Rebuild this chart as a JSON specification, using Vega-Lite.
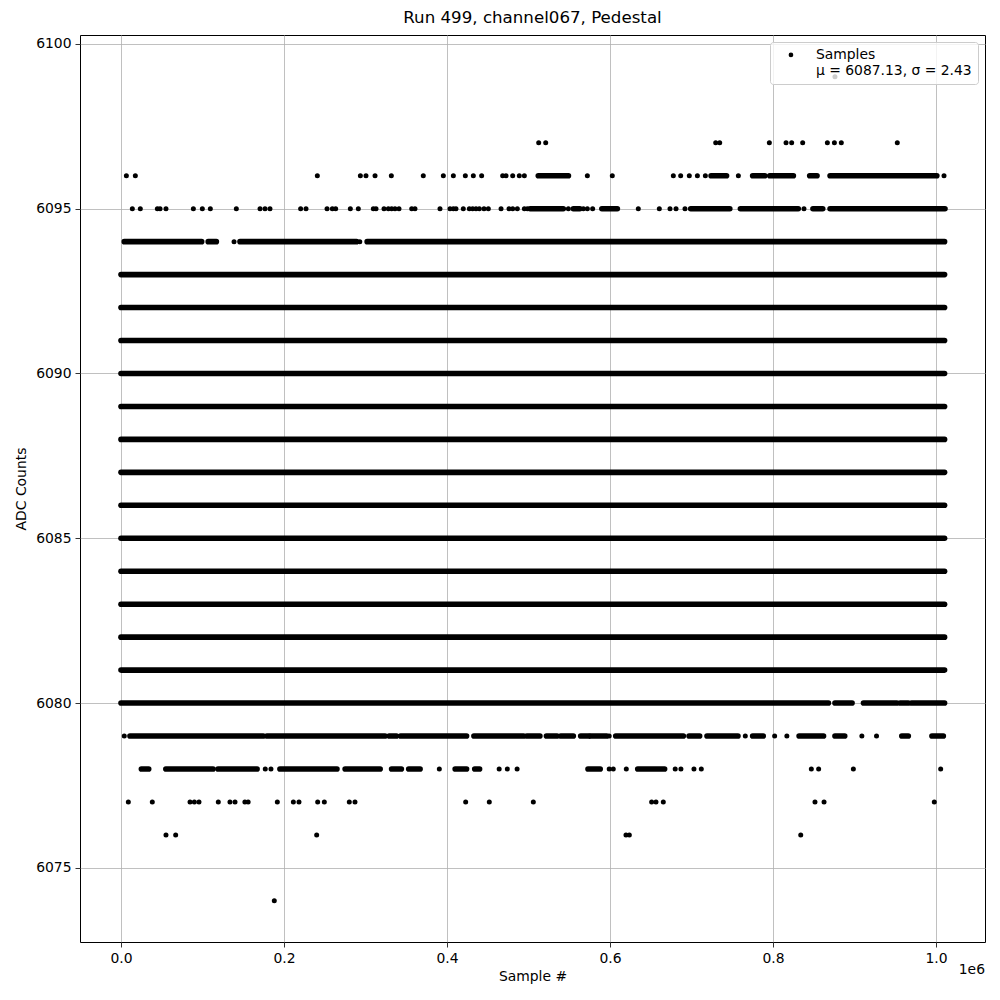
{
  "$schema": "https://vega.github.io/schema/vega-lite/v6.json",
  "width": 905,
  "height": 907,
  "autosize": "none",
  "padding": {"left": 80, "top": 35, "right": 15, "bottom": 58},
  "background": "white",
  "title": {"text": "Run 499, channel067, Pedestal", "font": "DejaVu Sans", "fontSize": 16.67, "fontWeight": "normal", "color": "black", "anchor": "middle", "offset": 8},
  "config": {
    "view": {"stroke": "black", "strokeWidth": 1},
    "axis": {"domain": false, "grid": true, "gridColor": "#b0b0b0", "gridWidth": 0.8, "tickColor": "black", "tickSize": 5, "tickWidth": 0.8, "labelFont": "DejaVu Sans", "labelFontSize": 13.9, "labelColor": "black", "labelPadding": 4, "titleFont": "DejaVu Sans", "titleFontSize": 13.9, "titleFontWeight": "normal", "titleColor": "black"},
    "legend": {"orient": "top-right", "offset": 7, "padding": 6, "fillColor": "rgba(255,255,255,0.8)", "strokeColor": "#cccccc", "cornerRadius": 3, "labelFont": "DejaVu Sans", "labelFontSize": 13.9, "labelColor": "black", "labelLimit": 400, "symbolType": "circle", "symbolSize": 22, "symbolFillColor": "black", "symbolStrokeWidth": 0, "symbolOffset": 8, "labelOffset": 18}
  },
  "datasets": {
    "seg": [
      {"y": 6081, "x": 0, "x2": 1.0105}, {"y": 6082, "x": 0, "x2": 1.0105}, {"y": 6083, "x": 0, "x2": 1.0105},
      {"y": 6084, "x": 0, "x2": 1.0105}, {"y": 6085, "x": 0, "x2": 1.0105}, {"y": 6086, "x": 0, "x2": 1.0105},
      {"y": 6087, "x": 0, "x2": 1.0105}, {"y": 6088, "x": 0, "x2": 1.0105}, {"y": 6089, "x": 0, "x2": 1.0105},
      {"y": 6090, "x": 0, "x2": 1.0105}, {"y": 6091, "x": 0, "x2": 1.0105}, {"y": 6092, "x": 0, "x2": 1.0105},
      {"y": 6093, "x": 0, "x2": 1.0105},
      {"y": 6080, "x": 0, "x2": 0.868}, {"y": 6080, "x": 0.876, "x2": 0.897}, {"y": 6080, "x": 0.911, "x2": 0.952},
      {"y": 6080, "x": 0.956, "x2": 0.966}, {"y": 6080, "x": 0.97, "x2": 1.0105},
      {"y": 6079, "x": 0.011, "x2": 0.1746}, {"y": 6079, "x": 0.179, "x2": 0.324}, {"y": 6079, "x": 0.329, "x2": 0.338},
      {"y": 6079, "x": 0.343, "x2": 0.424}, {"y": 6079, "x": 0.433, "x2": 0.494}, {"y": 6079, "x": 0.498, "x2": 0.514},
      {"y": 6079, "x": 0.522, "x2": 0.535}, {"y": 6079, "x": 0.5395, "x2": 0.555}, {"y": 6079, "x": 0.564, "x2": 0.574},
      {"y": 6079, "x": 0.576, "x2": 0.596}, {"y": 6079, "x": 0.607, "x2": 0.69}, {"y": 6079, "x": 0.697, "x2": 0.71},
      {"y": 6079, "x": 0.719, "x2": 0.757}, {"y": 6079, "x": 0.775, "x2": 0.788}, {"y": 6079, "x": 0.832, "x2": 0.862},
      {"y": 6079, "x": 0.876, "x2": 0.888}, {"y": 6079, "x": 0.958, "x2": 0.966}, {"y": 6079, "x": 0.995, "x2": 1.009},
      {"y": 6078, "x": 0.025, "x2": 0.034}, {"y": 6078, "x": 0.055, "x2": 0.113}, {"y": 6078, "x": 0.119, "x2": 0.167},
      {"y": 6078, "x": 0.195, "x2": 0.265}, {"y": 6078, "x": 0.275, "x2": 0.318}, {"y": 6078, "x": 0.332, "x2": 0.344},
      {"y": 6078, "x": 0.353, "x2": 0.367}, {"y": 6078, "x": 0.41, "x2": 0.424}, {"y": 6078, "x": 0.434, "x2": 0.44},
      {"y": 6078, "x": 0.573, "x2": 0.588}, {"y": 6078, "x": 0.634, "x2": 0.667},
      {"y": 6094, "x": 0.004, "x2": 0.099}, {"y": 6094, "x": 0.107, "x2": 0.117}, {"y": 6094, "x": 0.146, "x2": 0.289},
      {"y": 6094, "x": 0.302, "x2": 1.0105},
      {"y": 6095, "x": 0.502, "x2": 0.5427}, {"y": 6095, "x": 0.555, "x2": 0.563}, {"y": 6095, "x": 0.59, "x2": 0.609},
      {"y": 6095, "x": 0.699, "x2": 0.747}, {"y": 6095, "x": 0.76, "x2": 0.831}, {"y": 6095, "x": 0.849, "x2": 0.861},
      {"y": 6095, "x": 0.87, "x2": 1.011},
      {"y": 6096, "x": 0.512, "x2": 0.549}, {"y": 6096, "x": 0.724, "x2": 0.743}, {"y": 6096, "x": 0.775, "x2": 0.79},
      {"y": 6096, "x": 0.796, "x2": 0.825}, {"y": 6096, "x": 0.845, "x2": 0.854}, {"y": 6096, "x": 0.87, "x2": 1.001}
    ],
    "pts": [
      {"y": 6099, "x": 0.876},
      {"y": 6097, "x": 0.5125}, {"y": 6097, "x": 0.5211}, {"y": 6097, "x": 0.7297}, {"y": 6097, "x": 0.7346},
      {"y": 6097, "x": 0.7955}, {"y": 6097, "x": 0.816}, {"y": 6097, "x": 0.8229}, {"y": 6097, "x": 0.8364},
      {"y": 6097, "x": 0.8667}, {"y": 6097, "x": 0.8753}, {"y": 6097, "x": 0.8838}, {"y": 6097, "x": 0.9525},
      {"y": 6096, "x": 0.0066}, {"y": 6096, "x": 0.0176}, {"y": 6096, "x": 0.2409}, {"y": 6096, "x": 0.2937},
      {"y": 6096, "x": 0.3006}, {"y": 6096, "x": 0.3117}, {"y": 6096, "x": 0.3317}, {"y": 6096, "x": 0.3709},
      {"y": 6096, "x": 0.3955}, {"y": 6096, "x": 0.4078}, {"y": 6096, "x": 0.4225}, {"y": 6096, "x": 0.4323},
      {"y": 6096, "x": 0.4425}, {"y": 6096, "x": 0.4683}, {"y": 6096, "x": 0.4724}, {"y": 6096, "x": 0.4806},
      {"y": 6096, "x": 0.4887}, {"y": 6096, "x": 0.4949}, {"y": 6096, "x": 0.5722}, {"y": 6096, "x": 0.6028},
      {"y": 6096, "x": 0.6777}, {"y": 6096, "x": 0.6867}, {"y": 6096, "x": 0.6973}, {"y": 6096, "x": 0.7072},
      {"y": 6096, "x": 0.717}, {"y": 6096, "x": 0.7575}, {"y": 6096, "x": 1.0098},
      {"y": 6095, "x": 0.0139}, {"y": 6095, "x": 0.0237}, {"y": 6095, "x": 0.0446}, {"y": 6095, "x": 0.0479},
      {"y": 6095, "x": 0.0552}, {"y": 6095, "x": 0.0888}, {"y": 6095, "x": 0.0998}, {"y": 6095, "x": 0.1096},
      {"y": 6095, "x": 0.1415}, {"y": 6095, "x": 0.1706}, {"y": 6095, "x": 0.1767}, {"y": 6095, "x": 0.1828},
      {"y": 6095, "x": 0.2204}, {"y": 6095, "x": 0.227}, {"y": 6095, "x": 0.2528}, {"y": 6095, "x": 0.2593},
      {"y": 6095, "x": 0.2634}, {"y": 6095, "x": 0.2814}, {"y": 6095, "x": 0.2912}, {"y": 6095, "x": 0.3096},
      {"y": 6095, "x": 0.3129}, {"y": 6095, "x": 0.3227}, {"y": 6095, "x": 0.328}, {"y": 6095, "x": 0.3321},
      {"y": 6095, "x": 0.3362}, {"y": 6095, "x": 0.3411}, {"y": 6095, "x": 0.3567}, {"y": 6095, "x": 0.3607},
      {"y": 6095, "x": 0.3914}, {"y": 6095, "x": 0.4037}, {"y": 6095, "x": 0.4078}, {"y": 6095, "x": 0.411},
      {"y": 6095, "x": 0.42}, {"y": 6095, "x": 0.4274}, {"y": 6095, "x": 0.4315}, {"y": 6095, "x": 0.4356},
      {"y": 6095, "x": 0.4397}, {"y": 6095, "x": 0.4454}, {"y": 6095, "x": 0.4507}, {"y": 6095, "x": 0.4663},
      {"y": 6095, "x": 0.4761}, {"y": 6095, "x": 0.4806}, {"y": 6095, "x": 0.4863}, {"y": 6095, "x": 0.4949},
      {"y": 6095, "x": 0.4986}, {"y": 6095, "x": 0.5489}, {"y": 6095, "x": 0.5673}, {"y": 6095, "x": 0.5722},
      {"y": 6095, "x": 0.5787}, {"y": 6095, "x": 0.6347}, {"y": 6095, "x": 0.6605}, {"y": 6095, "x": 0.6736},
      {"y": 6095, "x": 0.681}, {"y": 6095, "x": 0.692}, {"y": 6095, "x": 0.838},
      {"y": 6094, "x": 0.1387}, {"y": 6094, "x": 0.293},
      {"y": 6079, "x": 0.004}, {"y": 6079, "x": 0.599}, {"y": 6079, "x": 0.766}, {"y": 6079, "x": 0.802},
      {"y": 6079, "x": 0.817}, {"y": 6079, "x": 0.909}, {"y": 6079, "x": 0.927},
      {"y": 6078, "x": 0.177}, {"y": 6078, "x": 0.184}, {"y": 6078, "x": 0.3906}, {"y": 6078, "x": 0.464},
      {"y": 6078, "x": 0.474}, {"y": 6078, "x": 0.486}, {"y": 6078, "x": 0.599}, {"y": 6078, "x": 0.604},
      {"y": 6078, "x": 0.62}, {"y": 6078, "x": 0.68}, {"y": 6078, "x": 0.687}, {"y": 6078, "x": 0.703},
      {"y": 6078, "x": 0.712}, {"y": 6078, "x": 0.847}, {"y": 6078, "x": 0.856}, {"y": 6078, "x": 0.8986},
      {"y": 6078, "x": 1.0057},
      {"y": 6077, "x": 0.009}, {"y": 6077, "x": 0.0384}, {"y": 6077, "x": 0.0847}, {"y": 6077, "x": 0.09},
      {"y": 6077, "x": 0.0957}, {"y": 6077, "x": 0.1194}, {"y": 6077, "x": 0.1337}, {"y": 6077, "x": 0.1399},
      {"y": 6077, "x": 0.152}, {"y": 6077, "x": 0.156}, {"y": 6077, "x": 0.1918}, {"y": 6077, "x": 0.2115},
      {"y": 6077, "x": 0.2184}, {"y": 6077, "x": 0.2413}, {"y": 6077, "x": 0.2495}, {"y": 6077, "x": 0.2801},
      {"y": 6077, "x": 0.2871}, {"y": 6077, "x": 0.4229}, {"y": 6077, "x": 0.4519}, {"y": 6077, "x": 0.5059},
      {"y": 6077, "x": 0.6511}, {"y": 6077, "x": 0.6564}, {"y": 6077, "x": 0.6654}, {"y": 6077, "x": 0.8515},
      {"y": 6077, "x": 0.8626}, {"y": 6077, "x": 0.9979},
      {"y": 6076, "x": 0.0552}, {"y": 6076, "x": 0.0671}, {"y": 6076, "x": 0.2401}, {"y": 6076, "x": 0.6196},
      {"y": 6076, "x": 0.6237}, {"y": 6076, "x": 0.834},
      {"y": 6074, "x": 0.1881}
    ]
  },
  "layer": [
    {
      "data": {"name": "seg"},
      "mark": {"type": "rule", "strokeWidth": 5.6, "strokeCap": "round", "color": "black"},
      "encoding": {
        "x": {"field": "x", "type": "quantitative", "scale": {"domain": [-0.0503, 1.0601], "nice": false, "zero": false},
              "axis": {"values": [0, 0.2, 0.4, 0.6, 0.8, 1.0], "format": ".1f", "title": "Sample #", "titlePadding": 5}},
        "x2": {"field": "x2"},
        "y": {"field": "y", "type": "quantitative", "scale": {"domain": [6072.75, 6100.27], "nice": false, "zero": false},
              "axis": {"values": [6075, 6080, 6085, 6090, 6095, 6100], "format": "d", "title": "ADC Counts", "titlePadding": 7}}
      }
    },
    {
      "data": {"name": "pts"},
      "mark": {"type": "circle", "size": 25, "opacity": 1},
      "encoding": {
        "x": {"field": "x", "type": "quantitative"},
        "y": {"field": "y", "type": "quantitative"},
        "color": {"datum": "Samples", "type": "nominal", "scale": {"range": ["black"]},
                  "legend": {"title": null, "labelExpr": "['Samples', 'μ = 6087.13, σ = 2.43']"}}
      }
    },
    {
      "data": {"values": [{}]},
      "mark": {"type": "text", "text": "1e6", "font": "DejaVu Sans", "fontSize": 13.9, "color": "black", "align": "right", "baseline": "top", "dy": 21},
      "encoding": {"x": {"datum": 1.0601, "type": "quantitative"}, "y": {"datum": 6072.75, "type": "quantitative"}}
    }
  ]
}
